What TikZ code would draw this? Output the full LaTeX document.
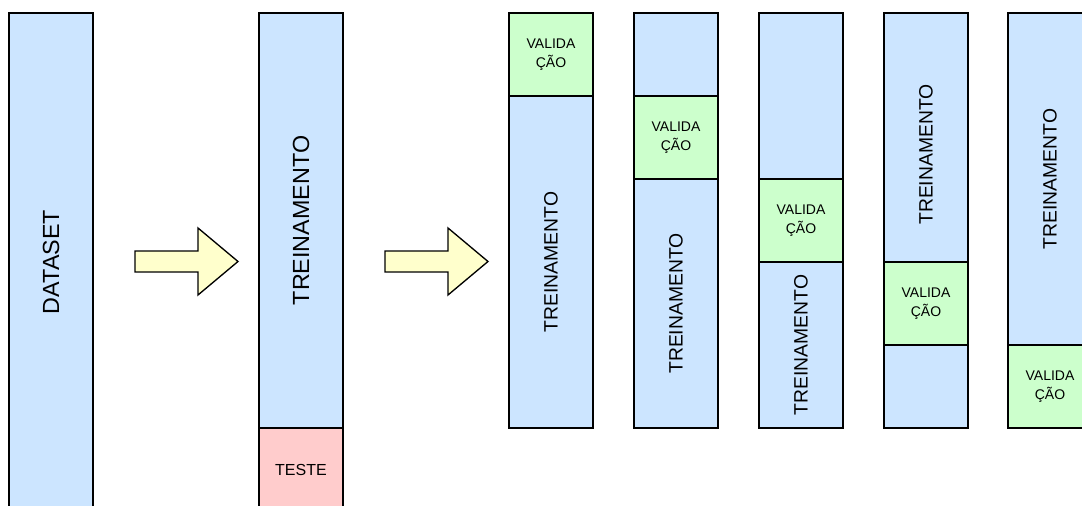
\documentclass[tikz,border=0pt]{standalone}
\usepackage{fontspec}
\setmainfont{Liberation Sans}
\usetikzlibrary{positioning}
\definecolor{trnblue}{HTML}{CCE5FF}
\definecolor{valgreen}{HTML}{CCFFCC}
\definecolor{tstred}{HTML}{FFCCCC}
\definecolor{blkyellow}{HTML}{FFFFCC}
\newcommand{\vlabel}[1]{\rotatebox{90}{#1}}
\tikzset{
  seg/.style={
      rectangle,
      draw,
      line width=1pt,
      inner sep=0pt,
      outer sep=0pt,
      minimum width=63pt,
      align=center
    },
  trn/.style={
      seg,
      fill=trnblue,
      font=\fontsize{14.5}{17}\selectfont
    },
  big/.style={
      font=\fontsize{17.5}{20}\selectfont
    },
  val/.style={
      seg,
      fill=valgreen,
      minimum height=62.25pt,
      font=\fontsize{10.5}{14.25}\selectfont
    },
  tst/.style={
      seg,
      fill=tstred,
      minimum height=62.25pt,
      font=\fontsize{12}{14}\selectfont
    },
  blk/.style={
      draw,
      line width=1pt,
      fill=blkyellow
    }
}

\begin{document}
\begin{tikzpicture}[x=0.75pt, y=-0.75pt]
  \useasboundingbox (0,0) rectangle (1082,506);
  \clip (0,0) rectangle (1082,506);

  % whole dataset
  \node[trn, big, anchor=north west, minimum height=373.5pt] (data) at (9,13) {\vlabel{DATASET}};
  \draw[blk] (135,251) -- (198,251) -- (198,228) -- (238,261.5) -- (198,295) -- (198,272) -- (135,272) -- cycle;

  % train / test split
  \node[trn, big, anchor=north west, minimum height=311.25pt] (train) at (259,13) {\vlabel{TREINAMENTO}};
  \node[tst, below=0pt of train] (test) {TESTE};
  \draw[blk] (385,251) -- (448,251) -- (448,228) -- (488,261.5) -- (448,295) -- (448,272) -- (385,272) -- cycle;

  % folds
  \node[val, anchor=north west] (v1) at (509,13) {VALIDA\\ÇÃO};
  \node[trn, below=0pt of v1, minimum height=249pt] (t1) {\vlabel{TREINAMENTO}};

  \node[trn, anchor=north west, minimum height=62.25pt] (t2a) at (634,13) {};
  \node[val, below=0pt of t2a] (v2) {VALIDA\\ÇÃO};
  \node[trn, below=0pt of v2, minimum height=186.75pt] (t2b) {\vlabel{TREINAMENTO}};

  \node[trn, anchor=north west, minimum height=124.5pt] (t3a) at (759,13) {};
  \node[val, below=0pt of t3a] (v3) {VALIDA\\ÇÃO};
  \node[trn, below=0pt of v3, minimum height=124.5pt] (t3b) {\vlabel{TREINAMENTO}};

  \node[trn, anchor=north west, minimum height=186.75pt] (t4a) at (884,13) {};
  \node[font=\fontsize{14.5}{17}\selectfont, inner sep=0pt] (t4txt) at ([yshift=-12.75pt]t4a.center) {\vlabel{TREINAMENTO}};
  \node[val, below=0pt of t4a] (v4) {VALIDA\\ÇÃO};
  \node[trn, below=0pt of v4, minimum height=62.25pt] (t4b) {};

  \node[trn, anchor=north west, minimum height=249pt] (t5) at (1008,13) {\vlabel{TREINAMENTO}};
  \node[val, below=0pt of t5] (v5) {VALIDA\\ÇÃO};
\end{tikzpicture}
\end{document}
